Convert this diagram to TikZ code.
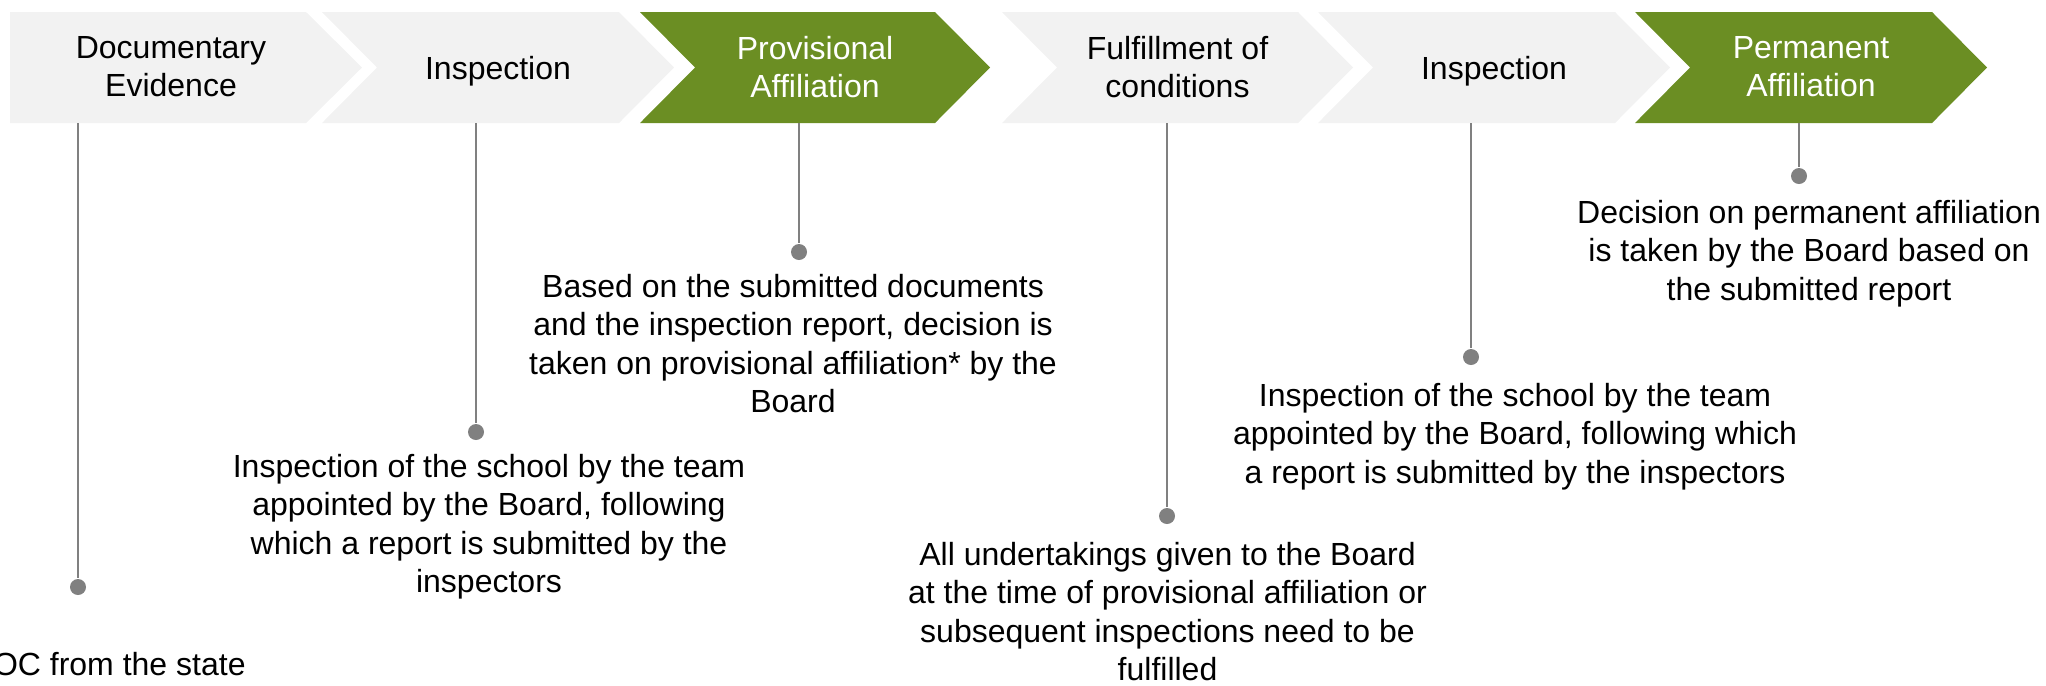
\documentclass[tikz,border=0pt]{standalone}
\usepackage{fontspec}
\setmainfont{Liberation Sans}
\usepackage{xcolor}
\usetikzlibrary{positioning,calc}

\definecolor{stepgreen}{RGB}{107,142,35}
\definecolor{stepgrey}{RGB}{242,242,242}
\definecolor{pingrey}{RGB}{128,128,128}

\tikzset{
  greychev/.style={fill=stepgrey},
  greenchev/.style={fill=stepgreen},
  stagetext/.style={anchor=north, inner sep=0pt, align=center, text=black, font=\fontsize{12}{14.3}\selectfont},
  greentext/.style={stagetext, text=white},
  desc/.style={anchor=north, inner sep=0pt, align=center, text=black, font=\fontsize{12}{14.3}\selectfont},
  pindot/.style={circle, fill=pingrey, inner sep=0pt, minimum size=6pt},
  pinline/.style={draw=pingrey, line width=1pt}
}

\begin{document}
\begin{tikzpicture}[x=0.375pt, y=-0.375pt]
    \clip (0,0) rectangle (2046,685);

    % chevrons
    \fill [greychev] (10,12) -- (306,12) -- (362,67.5) -- (306,123) -- (10,123) -- cycle;
    \fill [greychev] (322,12) -- ++(297,0) -- ++(55,55.5) -- ++(-55,55.5) -- ++(-297,0) -- ++(55,-55.5) -- cycle;
    \fill [greenchev] (640,12) -- ++(295,0) -- ++(55,55.5) -- ++(-55,55.5) -- ++(-295,0) -- ++(55,-55.5) -- cycle;
    \fill [greychev] (1002,12) -- ++(296,0) -- ++(55,55.5) -- ++(-55,55.5) -- ++(-296,0) -- ++(55,-55.5) -- cycle;
    \fill [greychev] (1318,12) -- ++(297,0) -- ++(55,55.5) -- ++(-55,55.5) -- ++(-297,0) -- ++(55,-55.5) -- cycle;
    \fill [greenchev] (1635,12) -- ++(297,0) -- ++(55,55.5) -- ++(-55,55.5) -- ++(-297,0) -- ++(55,-55.5) -- cycle;

    \node (s1) [stagetext] at (171,36) {Documentary\\Evidence};
    \node (s2) [stagetext] at (498,56) {Inspection};
    \node (s3) [greentext] at (815,36) {Provisional\\Affiliation};
    \node (s4) [stagetext] at (1177.5,36) {Fulfillment of\\conditions};
    \node (s5) [stagetext] at (1494,56) {Inspection};
    \node (s6) [greentext] at (1811,36) {Permanent\\Affiliation};

    % pins under the stages
    \coordinate (b1) at (78,123);
    \coordinate (b2) at (476,123);
    \coordinate (b3) at (799,123);
    \coordinate (b4) at (1167,123);
    \coordinate (b5) at (1471,123);
    \coordinate (b6) at (1799,123);

    \node (d1) [pindot] at (78,587) {};
    \node (d2) [pindot] at (476,432) {};
    \node (d3) [pindot] at (799,252) {};
    \node (d4) [pindot] at (1167,516) {};
    \node (d5) [pindot] at (1471,357) {};
    \node (d6) [pindot] at (1799,176) {};

    \draw [pinline] (b1) -- (d1);
    \draw [pinline] (b2) -- (d2);
    \draw [pinline] (b3) -- (d3);
    \draw [pinline] (b4) -- (d4);
    \draw [pinline] (b5) -- (d5);
    \draw [pinline] (b6) -- (d6);

    % descriptions
    \node (t1) [desc, anchor=base west] at (-30.6,675) {NOC from the state};
    \node (t2) [desc] at (489,454) {Inspection of the school by the team\\appointed by the Board, following\\which a report is submitted by the\\inspectors};
    \node (t3) [desc] at (793,274) {Based on the submitted documents\\and the inspection report, decision is\\taken on provisional affiliation* by the\\Board};
    \node (t4) [desc] at (1167.5,542) {All undertakings given to the Board\\at the time of provisional affiliation or\\subsequent inspections need to be\\fulfilled};
    \node (t5) [desc] at (1515,383) {Inspection of the school by the team\\appointed by the Board, following which\\a report is submitted by the inspectors};
    \node (t6) [desc] at (1809,200) {Decision on permanent affiliation\\is taken by the Board based on\\the submitted report};
\end{tikzpicture}
\end{document}
